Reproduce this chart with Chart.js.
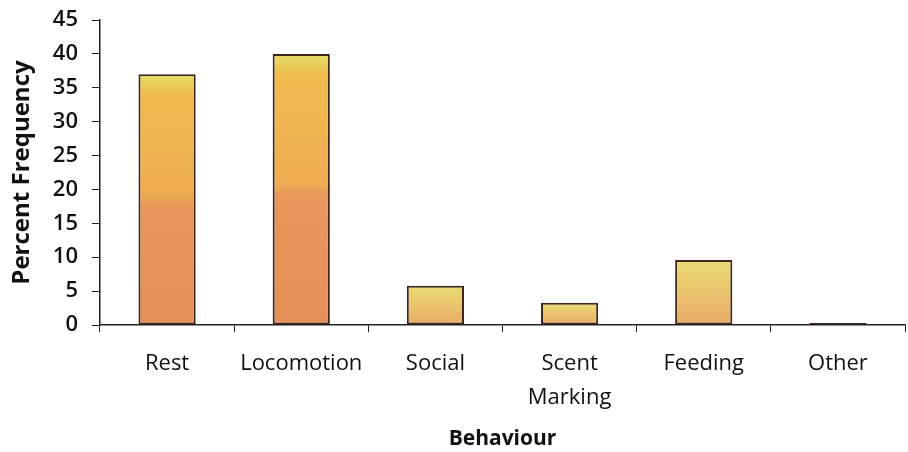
<!DOCTYPE html>
<html>
<head>
<meta charset="utf-8">
<script src="https://cdn.jsdelivr.net/npm/chart.js@4.4.0/dist/chart.umd.min.js"></script>
<style>
  html, body { margin: 0; padding: 0; background: #fff; }
  #wrap { width: 908px; height: 452px; }
</style>
</head>
<body>
<div id="wrap"><canvas id="myChart" width="908" height="452"></canvas></div>
<script>
const behaviours = ["Rest", "Locomotion", "Social", ["Scent", "Marking"], "Feeding", "Other"];
const percentFrequency = [37, 40, 5.8, 3.3, 9.6, 0.3];
const yTicks = [0, 5, 10, 15, 20, 25, 30, 35, 40, 45];

const FONT = "'Open Sans', 'DejaVu Sans', sans-serif";

// vertical gradient per bar: orange at the base, yellow toward the top
function barFill(ctx) {
  const chart = ctx.chart;
  if (!chart.chartArea || ctx.dataIndex === undefined) return "#e9a055";
  const y = chart.scales.y;
  const base = y.getPixelForValue(0);
  const top = y.getPixelForValue(percentFrequency[ctx.dataIndex]);
  if (base - top < 3) return "#b88a60";
  const g = chart.ctx.createLinearGradient(0, base, 0, top);
  if (base - top > 100) {
    g.addColorStop(0, "#e68f58");
    g.addColorStop(0.48, "#e9975a");
    g.addColorStop(0.52, "#eeac52");
    g.addColorStop(0.92, "#f1bb4e");
    g.addColorStop(1, "#e4e066");
  } else {
    g.addColorStop(0, "#e8ab68");
    g.addColorStop(0.6, "#ebc86e");
    g.addColorStop(1, "#e9dc74");
  }
  return g;
}

new Chart("myChart", {
  type: "bar",
  data: {
    labels: behaviours,
    datasets: [{
      data: percentFrequency,
      backgroundColor: barFill,
      borderColor: "#3e261a",
      borderWidth: 2,
      borderSkipped: false,
      categoryPercentage: 0.82,
      barPercentage: 0.52
    }]
  },
  options: {
    responsive: false,
    animation: false,
    layout: { padding: { top: 20, right: 3, left: 0, bottom: 0 } },
    plugins: { legend: { display: false }, tooltip: { enabled: false } },
    scales: {
      x: {
        grid: { display: true, drawOnChartArea: false, drawTicks: true, tickLength: 7, color: "#222", offset: true },
        border: { display: true, color: "#222", width: 1.5 },
        ticks: { color: "#111", font: { family: FONT, size: 22, lineHeight: 1.55 }, padding: 15, maxRotation: 0, autoSkip: false },
        title: { display: true, text: "Behaviour", color: "#111", font: { family: FONT, size: 21, weight: "bold" }, padding: { top: 0, bottom: 0 } },
        afterFit: function (axis) { axis.height = 127; axis.paddingLeft = 0; axis.paddingRight = 0; }
      },
      y: {
        min: 0,
        max: 45,
        afterBuildTicks: function (axis) { axis.ticks = yTicks.map(v => ({ value: v })); },
        grid: { display: true, drawOnChartArea: false, drawTicks: true, tickLength: 8, color: "#222" },
        border: { display: true, color: "#222", width: 1.5 },
        ticks: { color: "#111", font: { family: FONT, size: 22, weight: "600" }, padding: 14 },
        title: { display: true, text: "Percent Frequency", color: "#111", font: { family: FONT, size: 24, weight: "bold" }, padding: { top: 8, bottom: 0 } },
        afterFit: function (axis) { axis.width = 100; axis.paddingTop = 0; axis.paddingBottom = 0; }
      }
    }
  }
});
</script>
</body>
</html>
